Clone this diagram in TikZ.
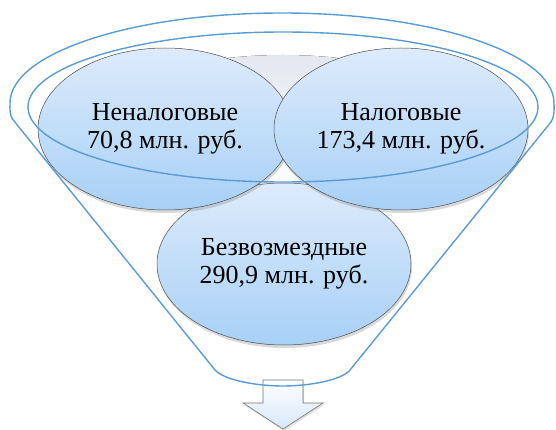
\documentclass[tikz,border=0pt]{standalone}
\usepackage{fontspec}
\setmainfont{Liberation Serif}
\newfontfamily\bubblefont{Liberation Serif}
\usetikzlibrary{shapes.geometric,shadows}

\definecolor{rimblue}{HTML}{5B9BD5}
\definecolor{bubbletop}{HTML}{DDEBFB}
\definecolor{bubblebot}{HTML}{A7D0F6}
\definecolor{hollow}{HTML}{E2E8F1}

\begin{document}
\begin{tikzpicture}[x=1pt,y=-1pt,
	rim/.style={draw=rimblue,line width=1.4pt},
	bubble/.style={ellipse,draw=black!70,line width=.5pt,top color=bubbletop,bottom color=bubblebot,
		minimum width=254pt,minimum height=162pt,align=center,font=\bubblefont\fontsize{26}{28.5}\selectfont,
		drop shadow={opacity=.3,shadow xshift=1pt,shadow yshift=-3pt}},
	outarrow/.style={draw=black!55,line width=.6pt,top color=white!92!bubbletop,bottom color=bubbletop!90!bubblebot,
		drop shadow={opacity=.25,shadow xshift=1pt,shadow yshift=-2pt}}]
	\useasboundingbox (0,0) rectangle (556,430);
	\fill[top color=hollow,bottom color=white] (283,125) ellipse[x radius=190,y radius=70];
	\node[bubble] (free) at (284,264) {Безвозмездные\\290,9 млн. руб.};
	\node[bubble] (nontax) at (165,129) {Неналоговые\\70,8 млн. руб.};
	\node[bubble] (tax) at (401,129) {Налоговые\\173,4 млн. руб.};
	\coordinate (A1) at (263,380);
	\coordinate (A2) at (303,380);
	\coordinate (A3) at (283,429);
	\draw[outarrow] (A1) -- (A2) -- (303,403) -- (323,403) -- (A3) -- (243,403) -- (263,403) -- cycle;
	\draw[rim] (215,370) -- (14,121) .. controls (9,115) and (10,109) .. (10,103)
		arc[start angle=180,end angle=360,x radius=272,y radius=90]
		.. controls (554,109) and (555,115) .. (551,122) -- (350,370)
		.. controls (342,380) and (310,386) .. (283,386) .. controls (256,386) and (224,380) .. (215,370) -- cycle;
	\draw[rim] (283,107) ellipse[x radius=255,y radius=75];
\end{tikzpicture}
\end{document}
